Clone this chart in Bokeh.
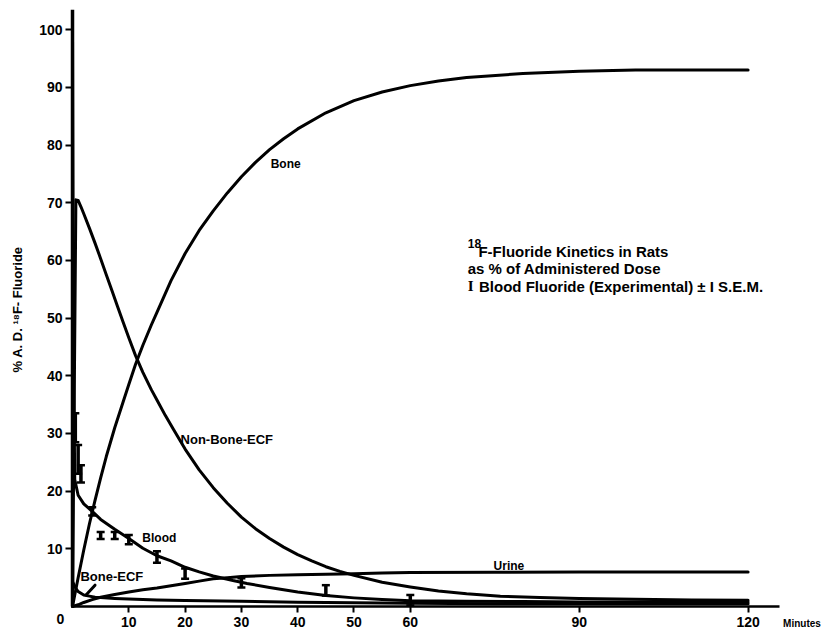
from bokeh.plotting import figure
from bokeh.models import Range1d, FixedTicker, Label
from bokeh.embed import file_html
from bokeh.resources import INLINE

# ---- data: % of administered dose vs minutes ----
bone_t = [0, 1, 2, 3, 4, 5, 6, 7.5, 9, 10, 11.2, 12.5, 14, 15, 17.5, 20, 22.5, 25, 27.5, 30,
          32.5, 35, 37.5, 40, 45, 50, 55, 60, 65, 70, 80, 90, 100, 110, 120]
bone_v = [0, 5, 9.8, 14.3, 18.4, 22.3, 26, 31, 35.5, 38.5, 42, 45.3, 48.8, 51.0, 56.5, 61.2, 65.2, 68.6, 71.7, 74.5,
          77, 79.2, 81.1, 82.8, 85.6, 87.7, 89.2, 90.3, 91.1, 91.7, 92.4, 92.8, 93, 93, 93]

nonbone_t = [0, 0.6, 1, 1.5, 2, 3, 4, 5, 6, 7, 8, 9, 10, 11.2, 12.5, 14, 15, 16.5, 18, 20, 22.5, 25, 27.5, 30,
             32.5, 35, 37.5, 40, 42.5, 45, 47.5, 50, 55, 60, 65, 70, 76, 83, 90, 100, 110, 120]
nonbone_v = [0, 70.5, 70.4, 69.3, 68.1, 65.6, 63.0, 60.3, 57.5, 54.8, 52.0, 49.3, 46.6, 43.5, 40.6, 37.6, 35.8, 33.1,
             30.6, 27.3, 23.7, 20.6, 17.9, 15.5, 13.5, 11.8, 10.3, 9.0, 7.9, 6.9, 6.1, 5.4, 4.2, 3.4, 2.7, 2.2,
             1.8, 1.55, 1.4, 1.25, 1.15, 1.1]

blood_t = [0, 0.15, 0.4, 1, 2, 3.5, 5, 7.5, 10, 12.5, 15, 17.5, 20, 22.5, 25, 28.5,
           31, 35, 40, 45, 50, 55, 60, 70, 80, 90, 100, 110, 120]
blood_v = [100, 45, 22, 19.3, 17.8, 16.5, 15.1, 13.4, 11.8, 10.1, 8.8, 7.9, 6.8, 6.0, 5.3, 4.5,
           4.0, 3.3, 2.5, 1.9, 1.5, 1.2, 1.0, 0.9, 0.85, 0.8, 0.8, 0.8, 0.8]

urine_t = [0, 1, 2, 3.5, 5, 7.5, 10, 12.5, 15, 17.5, 20, 22.5, 25, 27.5, 30, 35, 40, 45, 50, 55, 60, 75, 90, 105, 120]
urine_v = [0, 0.3, 0.7, 1.2, 1.6, 2.1, 2.5, 2.9, 3.2, 3.6, 4.0, 4.4, 4.8, 5.0, 5.2, 5.4, 5.5, 5.6, 5.7, 5.8, 5.9, 5.95, 6.0, 6.0, 6.0]

boneecf_t = [0, 0.5, 1, 2, 3, 4, 5, 7.5, 10, 15, 20, 30, 40, 50, 60, 75, 90, 105, 120]
boneecf_v = [4.3, 3.3, 2.6, 2.0, 1.8, 1.6, 1.55, 1.4, 1.3, 1.15, 1.05, 0.9, 0.75, 0.65, 0.55, 0.5, 0.5, 0.5, 0.5]

# experimental blood fluoride, mean and +/- 1 S.E.M.
exp_t = [0.5, 1, 1.5, 3.5, 5, 7.5, 10, 15, 20, 30, 45, 60]
exp_v = [31, 25.5, 23, 16.5, 12.3, 12.3, 11.6, 8.6, 5.7, 4.1, 2.8, 1.1]
exp_sem = [2.5, 2.5, 1.5, 0.7, 0.6, 0.6, 0.8, 1.0, 0.9, 0.8, 0.9, 0.9]

x_ticks = [10, 20, 30, 40, 50, 60, 90, 120]
y_ticks = [10, 20, 30, 40, 50, 60, 70, 80, 90, 100]

FONT = "Liberation Sans"

# the frame covers the whole page; the axes sit at the data origin
p = figure(width=825, height=631, output_backend="svg", toolbar_location=None,
           x_range=Range1d(-12.79, 133.75), y_range=Range1d(-4.33, 103.5),
           min_border_left=0, min_border_right=0, min_border_top=9, min_border_bottom=0)
p.outline_line_color = None
p.grid.visible = False
p.background_fill_color = "white"
p.border_fill_color = "white"

for ax in (p.xaxis[0], p.yaxis[0]):
    ax.fixed_location = 0
    ax.axis_line_color = "black"
    ax.major_tick_line_color = "black"
    ax.major_tick_line_width = 2
    ax.major_tick_in = 0
    ax.minor_tick_line_color = None
    ax.major_label_text_font = FONT
    ax.major_label_text_font_style = "bold"
    ax.major_label_text_font_size = "14px"
    ax.major_label_text_color = "black"

p.xaxis.ticker = FixedTicker(ticks=x_ticks)
p.xaxis.bounds = (0, 125.5)
p.xaxis.axis_line_width = 2.5
p.xaxis.major_tick_out = 6
p.xaxis.major_label_standoff = 4

p.yaxis.ticker = FixedTicker(ticks=y_ticks)
p.yaxis.bounds = (0, 103.5)
p.yaxis.axis_line_width = 3.5
p.yaxis.major_tick_out = 7
p.yaxis.major_label_standoff = 3

# model curves
LW = 3
for t, v in ((bone_t, bone_v), (nonbone_t, nonbone_v), (blood_t, blood_v),
             (urine_t, urine_v), (boneecf_t, boneecf_v)):
    p.line(t, v, line_color="black", line_width=LW, line_join="round", line_cap="round")

# experimental points as I-beams
lo = [v - e for v, e in zip(exp_v, exp_sem)]
hi = [v + e for v, e in zip(exp_v, exp_sem)]
p.segment(x0=exp_t, y0=lo, x1=exp_t, y1=hi, line_color="black", line_width=3.5)
p.scatter(exp_t, lo, marker="dash", size=8, line_color="black", line_width=2.5)
p.scatter(exp_t, hi, marker="dash", size=8, line_color="black", line_width=2.5)

# pointer from the Bone-ECF label to its curve
p.segment(x0=[4.0], y0=[3.7], x1=[2.4], y1=[2.0], line_color="black", line_width=3, line_cap="round")


def lab(x, y, text, size="12px", bold=True, font=FONT, x_off=0, y_off=0,
        baseline="middle", align="left", angle=0.0):
    p.add_layout(Label(x=x, y=y, text=text, x_offset=x_off, y_offset=y_off,
                       text_font=font, text_font_size=size,
                       text_font_style="bold" if bold else "normal",
                       text_color="black", text_baseline=baseline, text_align=align,
                       angle=angle))


lab(35.2, 76.8, "Bone", "12px")
lab(19.2, 28.9, "Non-Bone-ECF", "13px")
lab(12.4, 11.8, "Blood", "12px")
lab(1.4, 5.2, "Bone-ECF", "13px")
lab(74.8, 7.1, "Urine", "12px")

# corner zero, axis unit and vertical axis title
lab(0, 0, "0", "14px", x_off=-12, y_off=-12, align="center")
lab(120, 0, "Minutes", "10px", x_off=35, y_off=-17)
lab(0, 51.5, "% A. D. ¹⁸F- Fluoride", "13px", x_off=-55, align="center", angle=1.5708)

# key text
lab(70.2, 62.9, "18", "12px")
lab(72.1, 61.5, "F-Fluoride Kinetics in Rats", "15px")
lab(70.2, 58.6, "as % of Administered Dose", "15px")
lab(70.2, 55.5, "I", "15px", font="Liberation Serif")
lab(72.2, 55.5, "Blood  Fluoride (Experimental) ± I S.E.M.", "15px")

open("out.html", "w").write(file_html(p, INLINE))
